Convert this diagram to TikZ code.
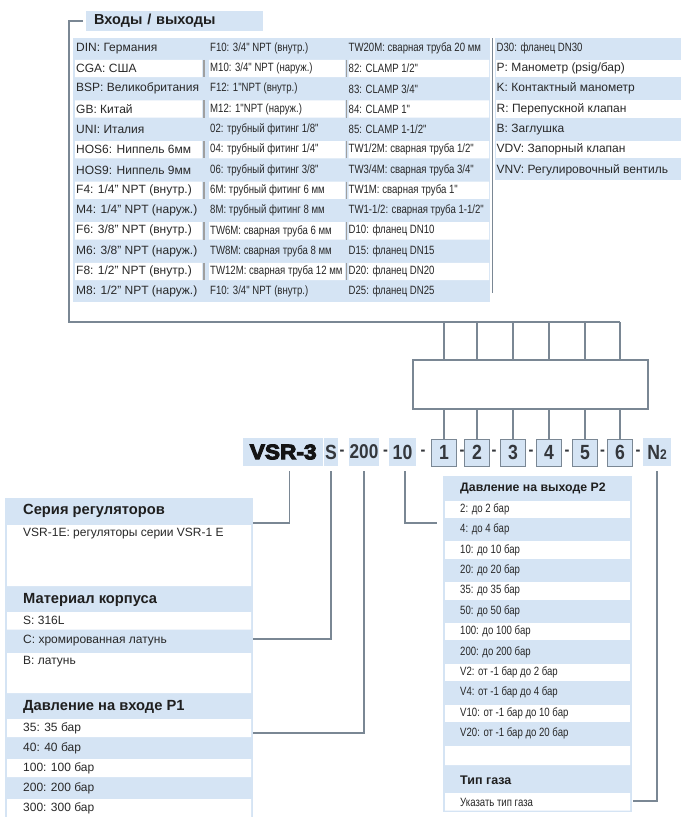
\documentclass[tikz,border=0pt]{standalone}
\usepackage{fontspec}
\setmainfont{Liberation Sans}
\newfontfamily\narrowfont[FakeStretch=0.8]{Liberation Sans}
\newfontfamily\codefont[FakeStretch=0.86]{Liberation Sans}
\newfontfamily\seriesfont[FakeStretch=1.08,BoldFeatures={FakeBold=5}]{Liberation Sans}
\usetikzlibrary{positioning}
\definecolor{cellblue}{RGB}{213,228,244}
\definecolor{linegray}{RGB}{122,135,148}
\definecolor{txtgray}{RGB}{40,40,40}
\definecolor{codegray}{RGB}{52,55,60}

\begin{document}
\begin{tikzpicture}[x=1pt,y=-1pt,
    item/.style={anchor=west,inner sep=0pt,text=txtgray,font=\fontsize{12}{14}\selectfont},
    narrowitem/.style={item,font=\narrowfont\fontsize{12}{14}\selectfont},
    head/.style={anchor=west,inner sep=0pt,text=black!88,font=\bfseries\fontsize{14.7}{16}\selectfont},
    codebg/.style={fill=cellblue,inner sep=0pt,minimum height=28pt,text=codegray,
                   font=\codefont\bfseries\fontsize{20.5}{22}\selectfont},
    digit/.style={codebg,draw=linegray,line width=0.9pt,minimum width=25pt,minimum height=27pt},
    hyph/.style={inner sep=0pt,text=codegray,font=\codefont\bfseries\fontsize{17}{20}\selectfont},
    link/.style={draw=linegray,line width=1.1pt}]
  \useasboundingbox (0,0) rectangle (681,817);

  % inputs / outputs table
  \fill[cellblue] (73,38) rectangle (490,302);
  \fill[cellblue] (495,38) rectangle (681,180.1);
  \draw[link] (492.5,38) -- (492.5,293);
  \foreach \i in {2,4,...,12}{
    \pgfmathsetmacro\ya{38+(\i-1)*20.3+1.5}
    \pgfmathsetmacro\yb{38+\i*20.3-1.5}
    \fill[white] (75,\ya) rectangle (202,\yb) (209,\ya) rectangle (345,\yb) (348.5,\ya) rectangle (489,\yb);
    \draw[gray!75,line width=1.3pt] (204,\ya) -- (204,\yb) (346.7,\ya) -- (346.7,\yb);
  }
  \foreach \i in {2,4,6}{
    \pgfmathsetmacro\ya{38+(\i-1)*20.3+1.5}
    \pgfmathsetmacro\yb{38+\i*20.3-1.5}
    \fill[white] (496,\ya) rectangle (681,\yb);
  }
  \node[head,fill=cellblue,inner xsep=8pt,minimum height=20pt,text width=161pt,
        font=\bfseries\fontsize{14.5}{16}\selectfont] (ioT) at (86,21) {Входы / выходы};
  \foreach \t [count=\i] in {DIN: Германия, CGA: США, BSP: Великобритания, GB: Китай,
      UNI: Италия, HOS6: Ниппель 6мм, HOS9: Ниппель 9мм, F4: 1/4" NPT (внутр.),
      M4: 1/4" NPT (наруж.), F6: 3/8" NPT (внутр.), M6: 3/8" NPT (наруж.),
      F8: 1/2" NPT (внутр.), M8: 1/2" NPT (наруж.)}
    \node[item] (ioA\i) at (76,{38+(\i-0.5)*20.3}) {\t};
  \foreach \t [count=\i] in {F10: 3/4" NPT (внутр.), M10: 3/4" NPT (наруж.),
      F12: 1"NPT (внутр.), M12: 1"NPT (наруж.), 02: трубный фитинг 1/8",
      04: трубный фитинг 1/4", 06: трубный фитинг 3/8", 6M: трубный фитинг 6 мм,
      8M: трубный фитинг 8 мм, TW6M: сварная труба 6 мм, TW8M: сварная труба 8 мм,
      TW12M: сварная труба 12 мм, F10: 3/4" NPT (внутр.)}
    \node[narrowitem] (ioB\i) at (210,{38+(\i-0.5)*20.3}) {\t};
  \foreach \t [count=\i] in {TW20M: сварная труба 20 мм, 82: CLAMP 1/2", 83: CLAMP 3/4",
      84: CLAMP 1", 85: CLAMP 1-1/2", TW1/2M: сварная труба 1/2",
      TW3/4M: сварная труба 3/4", TW1M: сварная труба 1", TW1-1/2: сварная труба 1-1/2",
      D10: фланец DN10, D15: фланец DN15, D20: фланец DN20, D25: фланец DN25}
    \node[narrowitem] (ioC\i) at (348.5,{38+(\i-0.5)*20.3}) {\t};
  \node[narrowitem] (ioD1) at (496.5,48.15) {D30: фланец DN30};
  \foreach \t [count=\i from 2] in {P: Манометр (psig/бар), K: Контактный манометр,
      R: Перепускной клапан, B: Заглушка, VDV: Запорный клапан, VNV: Регулировочный вентиль}
    \node[item] (ioD\i) at (496.5,{38+(\i-0.5)*20.3}) {\t};

  % order code
  \node[codebg,anchor=west,minimum width=80pt,text=black!92,
        font=\seriesfont\bfseries\fontsize{21}{22}\selectfont] (vsr) at (243,452) {VSR-3};
  \node[codebg,minimum width=14pt] (mat) at (331,452) {S};
  \node[codebg,minimum width=30pt,font=\codefont\bfseries\fontsize{20}{22}\selectfont] (pin) at (364,452) {200};
  \node[codebg,minimum width=27pt] (pout) at (402.5,452) {10};
  \foreach \d/\x in {1/444,2/477,3/513,4/549,5/585,6/620}
    \node[digit] (d\d) at (\x,452.5) {\d};
  \node[codebg,minimum width=28pt] (gas) at (657,452) {N{\fontsize{14}{16}\selectfont 2}};
  \foreach \x [count=\k] in {342,385.5,423,462,494,531,567,602.5,638}
    \node[hyph] (h\k) at (\x,452.5) {-};

  % connector box
  \node[draw=linegray,line width=1.1pt,minimum width=235pt,minimum height=49pt,inner sep=0pt]
    (hub) at (530.5,384.5) {};
  \coordinate (ioCorner) at (69,322);
  \draw[link] ([xshift=-3pt]ioT.west) -| (ioCorner) -- (ioCorner -| d6);
  \foreach \k in {1,...,6}{
    \draw[link] (ioCorner -| d\k) -- (hub.north -| d\k);
    \draw[link] (hub.south -| d\k) -- (d\k.north);
  }

  % left panel
  \fill[cellblue] (5,498) rectangle (253,817);
  \fill[white] (7,525) rectangle (251,586) (7,612) rectangle (251,629.5)
               (7,653) rectangle (251,693) (7,719) rectangle (251,737)
               (7,759) rectangle (251,777) (7,799) rectangle (251,817);
  \node[head] (serT) at (23,510.5) {Серия регуляторов};
  \node[item] (ser1) at (23,534) {VSR-1E: регуляторы серии VSR-1 E};
  \node[head] (matT) at (23,599.5) {Материал корпуса};
  \node[item] (mat1) at (23,620.5) {S: 316L};
  \node[item] (mat2) at (23,641) {C: хромированная латунь};
  \node[item] (mat3) at (23,662) {B: латунь};
  \node[head] (pinT) at (23,707) {Давление на входе P1};
  \foreach \t/\y [count=\i] in {35: 35 бар/728, 40: 40 бар/748, 100: 100 бар/768,
      200: 200 бар/788, 300: 300 бар/808}
    \node[item] (pin\i) at (23,\y) {\t};

  % right panel
  \fill[cellblue] (443,476) rectangle (632,812);
  \foreach \i in {1,3,...,11}
    \fill[white] (445,{499+(\i-1)*20.4+1.5}) rectangle (630,{499+\i*20.4-1.5});
  \fill[white] (445,746) rectangle (630,765) (445,793) rectangle (630,810.5);
  \node[head,font=\bfseries\fontsize{12.3}{14}\selectfont] (poutT) at (460,488) {Давление на выходе P2};
  \foreach \t [count=\i] in {2: до 2 бар, 4: до 4 бар, 10: до 10 бар, 20: до 20 бар,
      35: до 35 бар, 50: до 50 бар, 100: до 100 бар, 200: до 200 бар,
      V2: от -1 бар до 2 бар, V4: от -1 бар до 4 бар, V10: от -1 бар до 10 бар,
      V20: от -1 бар до 20 бар}
    \node[narrowitem] (pout\i) at (460,{499+(\i-0.5)*20.4}) {\t};
  \node[head,font=\bfseries\fontsize{12.5}{14}\selectfont] (gasT) at (460,780) {Тип газа};
  \node[narrowitem] (gas1) at (460,802) {Указать тип газа};

  % leaders
  \coordinate (serIn) at (253,523);
  \coordinate (matIn) at (253,639);
  \coordinate (pinIn) at (253,733);
  \coordinate (poutIn) at (437,523);
  \coordinate (gasIn) at (633,801);
  \draw[link] ([xshift=6pt,yshift=-5pt]vsr.south) |- (serIn);
  \draw[link] ([yshift=-5pt]mat.south) |- (matIn);
  \draw[link] ([yshift=-5pt]pin.south) |- (pinIn);
  \draw[link] ([xshift=2.5pt,yshift=-5pt]pout.south) |- (poutIn);
  \draw[link] ([yshift=-5pt]gas.south) |- (gasIn);
\end{tikzpicture}
\end{document}
